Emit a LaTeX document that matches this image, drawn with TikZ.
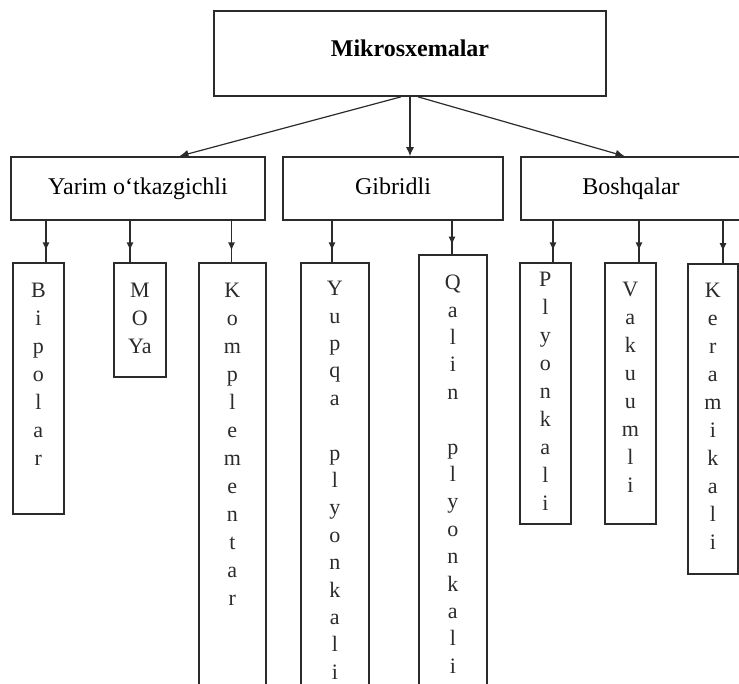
\documentclass[tikz,border=0pt]{standalone}
\usepackage{fontspec}
\setmainfont{Liberation Serif}
\usetikzlibrary{arrows.meta,decorations.markings}
\definecolor{ink}{HTML}{2B2B2B}
\tikzset{
  box/.style={draw=ink, line width=1.7pt, inner sep=0pt},
  headbox/.style={box, font=\fontsize{24}{28}\selectfont\bfseries, text depth=11pt},
  groupbox/.style={box, font=\fontsize{24}{28}\selectfont, text height=16.5pt, text depth=5pt},
  leafbox/.style={box, anchor=north west},
  letters/.style={anchor=north, inner sep=0pt, align=center, text=ink,
                  font=\fontsize{22}{28}\selectfont},
  tightletters/.style={letters, font=\fontsize{22}{27.4}\selectfont},
  toparrow/.style={draw=ink, line width=1.2pt, -{Latex[length=9pt,width=8pt]}},
  downlink/.style={draw=ink, line width=1.2pt, postaction=decorate,
    decoration={markings, mark=at position 0.72 with {\arrow{Latex[length=8pt,width=7pt]}}}},
}
\begin{document}
\begin{tikzpicture}[x=1pt,y=-1pt]
\useasboundingbox (0,0) rectangle (739,683);
\clip (0,0) rectangle (739,683);

% root and the three groups
\node[headbox, minimum width=392pt, minimum height=85pt] (top) at (410,53.5) {Mikrosxemalar};
\node[groupbox, minimum width=254pt, minimum height=63pt] (yar) at (138,188.5) {Yarim o‘tkazgichli};
\node[groupbox, minimum width=220pt, minimum height=63pt] (gib) at (393,188.5) {Gibridli};
\node[groupbox, minimum width=220pt, minimum height=63pt] (bos) at (631,188.5) {Boshqalar};

% leaf boxes
\node[leafbox, minimum width=51pt, minimum height=251pt] (bip) at (12,262) {};
\node[leafbox, minimum width=52pt, minimum height=114pt] (moy) at (113,262) {};
\node[leafbox, minimum width=67pt, minimum height=430pt] (kom) at (198,262) {};
\node[leafbox, minimum width=68pt, minimum height=430pt] (yup) at (300,262) {};
\node[leafbox, minimum width=68pt, minimum height=440pt] (qal) at (418,254) {};
\node[leafbox, minimum width=51pt, minimum height=261pt] (ply) at (519,262) {};
\node[leafbox, minimum width=51pt, minimum height=261pt] (vak) at (604,262) {};
\node[leafbox, minimum width=50pt, minimum height=310pt] (ker) at (687,263) {};

% vertical lettering
\node[letters] (bipt) at ([yshift=-21pt]bip.north) {B\\i\\p\\o\\l\\a\\r};
\node[letters] (moyt) at ([yshift=-21pt]moy.north) {M\\O\\Ya};
\node[letters] (komt) at ([yshift=-21pt]kom.north) {K\\o\\m\\p\\l\\e\\m\\e\\n\\t\\a\\r};
\node[tightletters] (yupt) at ([yshift=-19pt]yup.north) {Y\\u\\p\\q\\a\\[27.4pt]p\\l\\y\\o\\n\\k\\a\\l\\i};
\node[tightletters] (qalt) at ([yshift=-21pt]qal.north) {Q\\a\\l\\i\\n\\[27.4pt]p\\l\\y\\o\\n\\k\\a\\l\\i};
\node[letters] (plyt) at ([yshift=-10pt]ply.north) {P\\l\\y\\o\\n\\k\\a\\l\\i};
\node[letters] (vakt) at ([yshift=-19.5pt]vak.north) {V\\a\\k\\u\\u\\m\\l\\i};
\node[letters] (kert) at ([yshift=-20pt]ker.north) {K\\e\\r\\a\\m\\i\\k\\a\\l\\i};

% root to groups
\draw[toparrow] (top.south -| 401,0) -- (yar.north -| 179.5,0);
\draw[toparrow] (top.south) -- (gib.north -| top.south);
\draw[toparrow] (top.south -| 418,0) -- (bos.north -| 624.5,0);

% groups to leaves
\draw[downlink] (yar.south -| 46,0) -- (bip.north -| 46,0);
\draw[downlink] (yar.south -| 130,0) -- (moy.north -| 130,0);
\draw[downlink] (yar.south -| 231.5,0) -- (kom.north -| 231.5,0);
\draw[downlink] (gib.south -| 332,0) -- (yup.north -| 332,0);
\draw[downlink] (gib.south -| 452,0) -- (qal.north -| 452,0);
\draw[downlink] (bos.south -| 553,0) -- (ply.north -| 553,0);
\draw[downlink] (bos.south -| 639,0) -- (vak.north -| 639,0);
\draw[downlink] (bos.south -| 723,0) -- (ker.north -| 723,0);
\end{tikzpicture}
\end{document}
